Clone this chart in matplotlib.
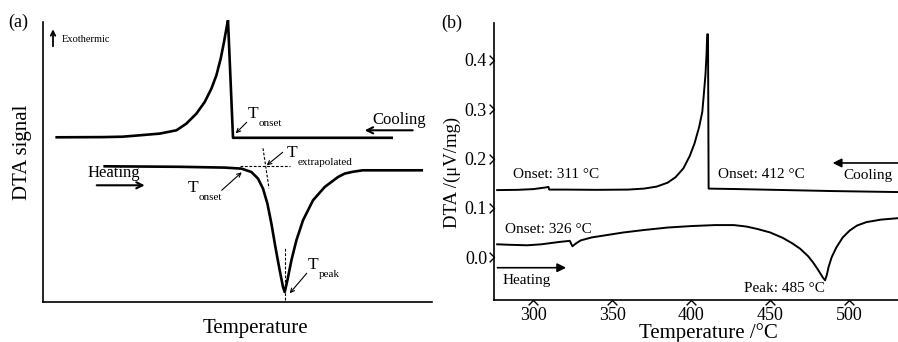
import matplotlib
matplotlib.use('Agg')
import matplotlib.pyplot as plt
import numpy as np
from matplotlib.path import Path

plt.rcParams['font.family'] = ['Liberation Serif', 'DejaVu Serif']

# ---- (a) schematic curves, arbitrary units ----------------------------------
cool_a_x = [14, 60, 80, 97, 117, 133.7, 143.7, 153.7, 162, 168.7, 173.7, 178,
            181.3, 184.3, 185.3, 190.3, 349]
cool_a_y = [165, 165.2, 165.6, 167, 168.7, 172, 178.7, 188.7, 200.3, 213.7,
            227, 243.7, 260.3, 277, 282, 164.5, 164.5]

heat_a_x = [62, 137, 182, 198.7, 208.7, 215.3, 220.3, 224.7, 228.7, 232.7,
            237, 240.3, 242, 244.7, 248.7, 253.7, 260.3, 270.3, 282, 295.3,
            302, 310, 320, 379]
heat_a_y = [136, 135.5, 134.7, 133.7, 130.3, 123.7, 113.7, 98.7, 78.7, 55.3,
            32, 15.3, 10.3, 22, 42, 62, 82, 102, 115.3, 125.3, 128.7, 130.5,
            132, 132]

# construction lines
base_dash_x = [197, 247]
base_dash_y = [136, 136]
tang_dash_x = [220.3, 226.3]
tang_dash_y = [154, 114]
peak_dash_x = [242, 242]
peak_dash_y = [2, 54]

# ---- (b) measured DTA curves ------------------------------------------------
cool_T = [277, 290, 300, 308, 309.5, 310, 320, 340, 360, 370, 378, 385, 390,
          395, 399, 402, 405, 407, 408, 409, 409.7, 410.1, 410.6, 411.0,
          430, 460, 490, 531]
cool_v = [0.136, 0.1365, 0.138, 0.1415, 0.1425, 0.137, 0.137, 0.1365, 0.137,
          0.139, 0.143, 0.151, 0.162, 0.18, 0.205, 0.23, 0.264, 0.295, 0.332,
          0.37, 0.413, 0.452, 0.452, 0.139, 0.138, 0.136, 0.134, 0.132]

heat_T = [277, 285, 296, 305, 317, 323, 324.7, 327, 330, 337, 345, 357, 370,
          385, 400, 415, 427, 435, 442, 450, 458, 464, 469, 474, 477, 480,
          483.5, 484.8, 486, 487, 489, 492, 496, 500.4, 505, 511, 520, 531]
heat_v = [0.026, 0.025, 0.024, 0.026, 0.031, 0.033, 0.022, 0.028, 0.034, 0.04,
          0.044, 0.05, 0.055, 0.06, 0.063, 0.065, 0.065, 0.062, 0.057, 0.05,
          0.039, 0.028, 0.017, 0.002, -0.01, -0.024, -0.042, -0.047, -0.035,
          -0.02, 0.0, 0.02, 0.04, 0.054, 0.064, 0.071, 0.076, 0.079]

xticks_b = [300, 350, 400, 450, 500]
yticks_b = [0.0, 0.1, 0.2, 0.3, 0.4]

fig = plt.figure(figsize=(8.98, 3.42), dpi=100)

# ---- Panel (a) --------------------------------------------------------------
ax = fig.add_axes([42.7 / 898, 39.7 / 342, 389.3 / 898, 282.3 / 342])
ax.plot(cool_a_x, cool_a_y, color='black', lw=1.9, solid_joinstyle='round')
ax.plot(heat_a_x, heat_a_y, color='black', lw=1.9, solid_joinstyle='round')
for xs, ys in [(base_dash_x, base_dash_y), (tang_dash_x, tang_dash_y),
               (peak_dash_x, peak_dash_y)]:
    ax.plot(xs, ys, color='black', lw=0.8, ls=(0, (2.5, 1.5)))
ax.set_xlim(0, 389.3)
ax.set_ylim(0, 282.3)
ax.set_xticks([])
ax.set_yticks([])
for s in ['top', 'right']:
    ax.spines[s].set_visible(False)
for s in ['left', 'bottom']:
    ax.spines[s].set_linewidth(1.2)
ax.spines['left'].set_bounds(0, 280.6)


def tlabel(x, y, sub):
    ax.text(x, y, 'T', fontsize=12.5, ha='left', va='center')
    ax.text(x + 11, y - 9.5, sub, fontsize=8, ha='left', va='center')


def small_arrow(x0, y0, x1, y1):
    ax.annotate('', xy=(x1, y1), xytext=(x0, y0),
                arrowprops=dict(arrowstyle='->', lw=0.8, color='black',
                                shrinkA=0, shrinkB=0, mutation_scale=7))


tlabel(205, 188, 'onset')
small_arrow(204, 180, 193, 169)
tlabel(244, 149, 'extrapolated')
small_arrow(240, 150, 224, 137)
tlabel(145, 114, 'onset')
small_arrow(179, 112, 199, 130)
tlabel(265, 37, 'peak')
small_arrow(264, 29, 247, 9)

ax.text(329.7, 182, 'Cooling', fontsize=12, ha='left', va='center')
ax.annotate('', xy=(322, 172), xytext=(370, 172),
            arrowprops=dict(arrowstyle='->', lw=1.5, color='black',
                            shrinkA=0, shrinkB=0, mutation_scale=11))
ax.text(45, 129, 'Heating', fontsize=12, ha='left', va='center')
ax.annotate('', xy=(102, 117), xytext=(54, 117),
            arrowprops=dict(arrowstyle='->', lw=1.5, color='black',
                            shrinkA=0, shrinkB=0, mutation_scale=11))

ax.annotate('', xy=(10.3, 273), xytext=(10.3, 256),
            arrowprops=dict(arrowstyle='->', lw=1.3, color='black',
                            shrinkA=0, shrinkB=0, mutation_scale=8))
ax.text(18.7, 262.7, 'Exothermic', fontsize=7.5, ha='left', va='center')

fig.text(255 / 898, 1 - 328 / 342, 'Temperature', fontsize=15,
         ha='center', va='center')
fig.text(23 / 898, 1 - 152 / 342, 'DTA signal', fontsize=15, rotation=90,
         ha='center', va='center')
fig.text(8 / 898, 1 - 22.7 / 342, '(a)', fontsize=13, ha='left', va='center')

# ---- Panel (b) --------------------------------------------------------------
bx = fig.add_axes([494 / 898, 42 / 342, 404 / 898, 277 / 342])
bx.plot(cool_T, cool_v, color='black', lw=1.4)
bx.plot(heat_T, heat_v, color='black', lw=1.4)
bx.set_xlim(275, 531)
bx.set_ylim(-0.087, 0.475)
for s in ['top', 'right']:
    bx.spines[s].set_visible(False)
for s in ['left', 'bottom']:
    bx.spines[s].set_linewidth(1.2)
bx.set_xticks(xticks_b)
bx.set_yticks(yticks_b)
bx.set_yticklabels([f'{v:.1f}' for v in yticks_b])
bx.tick_params(length=0, labelsize=13)
bx.tick_params(axis='y', pad=5)
bx.tick_params(axis='x', pad=5)

# chevron-shaped tick marks
right_chev = Path([(-1, 1), (0, 0), (-1, -1)],
                  [Path.MOVETO, Path.LINETO, Path.LINETO])
up_chev = Path([(-1, -1), (0, 0), (1, -1)],
               [Path.MOVETO, Path.LINETO, Path.LINETO])
bx.plot([275] * len(yticks_b), yticks_b, ls='none', marker=right_chev,
        ms=7, mfc='none', mec='black', mew=1.0, clip_on=False)
bx.plot(xticks_b, [-0.087] * len(xticks_b), ls='none', marker=up_chev,
        ms=7, mfc='none', mec='black', mew=1.0, clip_on=False)

bx.text(287, 0.1675, 'Onset: 311 °C', fontsize=11, ha='left', va='center')
bx.text(416.9, 0.1675, 'Onset: 412 °C', fontsize=11, ha='left', va='center')
bx.text(282.2, 0.0557, 'Onset: 326 °C', fontsize=11, ha='left', va='center')
bx.text(433.3, -0.064, 'Peak: 485 °C', fontsize=11, ha='left', va='center')
bx.text(496.6, 0.166, 'Cooling', fontsize=11, ha='left', va='center')
bx.text(280.4, -0.047, 'Heating', fontsize=11, ha='left', va='center')
bx.annotate('', xy=(489.6, 0.191), xytext=(531, 0.191),
            arrowprops=dict(arrowstyle='-|>', lw=1.2, color='black',
                            shrinkA=0, shrinkB=0, mutation_scale=13))
bx.annotate('', xy=(320.7, -0.0215), xytext=(277.2, -0.0215),
            arrowprops=dict(arrowstyle='-|>', lw=1.2, color='black',
                            shrinkA=0, shrinkB=0, mutation_scale=13))

fig.text(708 / 898, 1 - 333 / 342, 'Temperature /°C', fontsize=15,
         ha='center', va='center')
fig.text(452.7 / 898, 1 - 172 / 342, 'DTA /(μV/mg)', fontsize=13.5,
         rotation=90, ha='center', va='center')
fig.text(441 / 898, 1 - 23 / 342, '(b)', fontsize=13, ha='left', va='center')

fig.savefig('out.png', dpi=100)
